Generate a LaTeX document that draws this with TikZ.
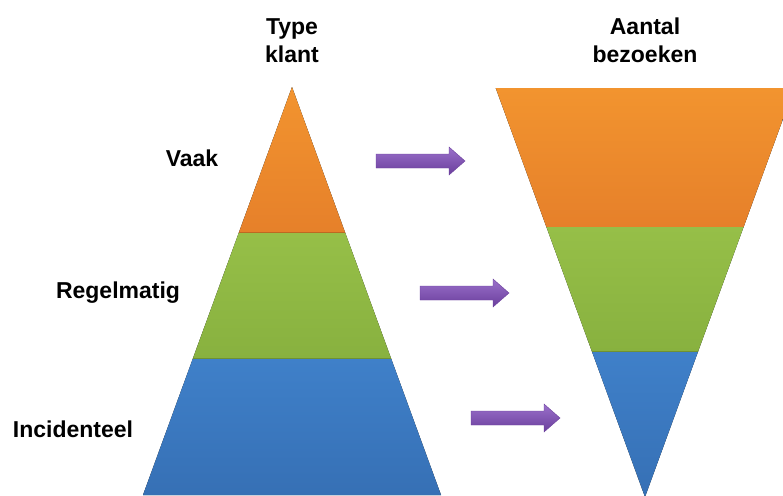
\documentclass[tikz,border=0pt]{standalone}
\usepackage{fontspec}
\setmainfont{Liberation Sans}
\usepackage{tikz}
\usetikzlibrary{positioning,calc}
\definecolor{oranje}{HTML}{E6802A}
\definecolor{oranjelicht}{HTML}{F2942F}
\definecolor{groen}{HTML}{88B13F}
\definecolor{groenlicht}{HTML}{96BF48}
\definecolor{blauw}{HTML}{3670B5}
\definecolor{blauwlicht}{HTML}{3F80C9}
\definecolor{paars}{HTML}{9A70CA}
\definecolor{paarsdonker}{HTML}{6A3E9C}

\begin{document}
\begin{tikzpicture}[x = 1pt, y = -1pt,
  kop/.style = {font = \bfseries\fontsize{23}{28}\selectfont, align = center, inner sep = 0},
  tekst/.style = {font = \bfseries\fontsize{23}{28}\selectfont, inner sep = 0, anchor = base},
  rand/.style = {line width = 1.2pt, opacity = .6},
  pijl/.style = {top color = paars, bottom color = paarsdonker, draw = paarsdonker, line width = .4pt}]
  \clip (0,0) rectangle (783,495);

  % piramide links
  \fill[top color = oranjelicht, bottom color = oranje] (292,87) -- (345.3,233) -- (238.7,233) -- cycle;
  \fill[top color = groenlicht, bottom color = groen] (238.7,233) -- (345.3,233) -- (391.3,359) -- (192.7,359) -- cycle;
  \fill[top color = blauwlicht, bottom color = blauw] (192.7,359) -- (391.3,359) -- (441,495) -- (143,495) -- cycle;
  \draw[rand, oranje!70!black] (239.1,232.4) -- (344.9,232.4);
  \draw[rand, groen!70!black] (192.9,358.4) -- (391.1,358.4);

  % trechter rechts
  \fill[top color = oranjelicht, bottom color = oranje] (495.7,88) -- (794.3,88) -- (743.6,227) -- (546.4,227) -- cycle;
  \fill[top color = groenlicht, bottom color = groen] (546.4,227) -- (743.6,227) -- (697.9,352) -- (592.1,352) -- cycle;
  \fill[top color = blauwlicht, bottom color = blauw] (592.1,352) -- (697.9,352) -- (645,497) -- cycle;
  \draw[rand, groen!70!black] (592.4,351.4) -- (697.6,351.4);

  % pijlen
  \foreach \x/\y in {376/161, 420/293, 471/418}
    \draw[pijl] (\x,\y-7) -- ++(73,0) -- ++(0,-7) -- ++(16,14) -- ++(-16,14) -- ++(0,-7) -- ++(-73,0) -- cycle;

  \node[kop, anchor = north] (typeklant) at (292,18) {Type\\klant};
  \node[kop, anchor = north] (aantal) at (645,18) {Aantal\\bezoeken};
  \node[tekst] (vaak) at (192,166) {Vaak};
  \node[tekst] (regelmatig) at (118,298) {Regelmatig};
  \node[tekst] (incidenteel) at (73,437) {Incidenteel};
\end{tikzpicture}
\end{document}
